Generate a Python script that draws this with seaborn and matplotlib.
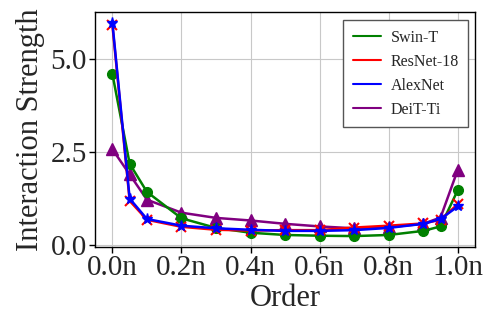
import pandas as pd
import matplotlib
matplotlib.use("Agg")
import matplotlib.pyplot as plt
import seaborn as sns
from matplotlib.lines import Line2D

# order values (fraction of n)
orders = [0.0, 0.05, 0.1, 0.2, 0.3, 0.4, 0.5, 0.6, 0.7, 0.8, 0.9, 0.95, 1.0]

swin_t = [4.60, 2.18, 1.42, 0.71, 0.45, 0.32, 0.26, 0.24, 0.23, 0.26, 0.37, 0.49, 1.47]
resnet18 = [5.92, 1.18, 0.67, 0.48, 0.40, 0.38, 0.39, 0.39, 0.46, 0.51, 0.57, 0.67, 1.09]
alexnet = [5.98, 1.24, 0.69, 0.51, 0.44, 0.40, 0.37, 0.37, 0.39, 0.45, 0.56, 0.69, 1.03]
deit_ti = [2.57, 1.89, 1.21, 0.86, 0.72, 0.65, 0.56, 0.49, 0.44, 0.47, 0.56, 0.73, 2.02]

models = ["Swin-T", "ResNet-18", "AlexNet", "DeiT-Ti"]
colors = {"Swin-T": "green", "ResNet-18": "red", "AlexNet": "blue", "DeiT-Ti": "purple"}
markers = {"Swin-T": "o", "ResNet-18": "x", "AlexNet": "*", "DeiT-Ti": "^"}
sizes = {"Swin-T": 7, "ResNet-18": 7, "AlexNet": 8, "DeiT-Ti": 8}
zorders = {"DeiT-Ti": 2, "Swin-T": 3, "ResNet-18": 4, "AlexNet": 5}

df = pd.DataFrame({
    "order": orders * 4,
    "strength": swin_t + resnet18 + alexnet + deit_ti,
    "model": sum([[m] * len(orders) for m in models], []),
})

sns.set_style("whitegrid")
plt.rcParams["font.family"] = ["Liberation Serif", "DejaVu Serif"]
plt.rcParams["axes.edgecolor"] = "black"
plt.rcParams["grid.color"] = "#c8c8c8"

fig, ax = plt.subplots(figsize=(4.98, 3.33), dpi=100)
fig.subplots_adjust(left=0.191, right=0.954, top=0.964, bottom=0.259)

for m in ["DeiT-Ti", "Swin-T", "ResNet-18", "AlexNet"]:
    sub = df[df["model"] == m]
    sns.lineplot(data=sub, x="order", y="strength", ax=ax, color=colors[m],
                 marker=markers[m], markersize=sizes[m], markeredgecolor=colors[m],
                 markeredgewidth=1.5 if m == "ResNet-18" else 1.0,
                 linewidth=1.8, zorder=zorders[m], legend=False)

ax.set_xticks([0.0, 0.2, 0.4, 0.6, 0.8, 1.0])
ax.set_xticklabels(["0.0n", "0.2n", "0.4n", "0.6n", "0.8n", "1.0n"])
ax.set_yticks([0.0, 2.5, 5.0])
ax.set_yticklabels(["0.0", "2.5", "5.0"])
ax.tick_params(axis="both", labelsize=21, length=4, width=1, color="black",
               left=True, bottom=True, pad=2)
ax.set_xlabel("Order", fontsize=22, labelpad=2)
ax.set_ylabel("Interaction Strength", fontsize=22, labelpad=4)
for s in ax.spines.values():
    s.set_color("black")
    s.set_linewidth(1.0)

handles = [Line2D([0], [0], color=colors[m], linewidth=1.5) for m in models]
leg = ax.legend(handles, models, loc="upper right", fontsize=11.5, frameon=True,
                fancybox=False, edgecolor="#555555", framealpha=1.0,
                borderpad=0.6, labelspacing=0.5, handlelength=1.75,
                handletextpad=0.6, borderaxespad=0,
                bbox_to_anchor=(0.982, 0.966))
leg.get_frame().set_linewidth(1.0)

plt.savefig("out.png", dpi=100)
